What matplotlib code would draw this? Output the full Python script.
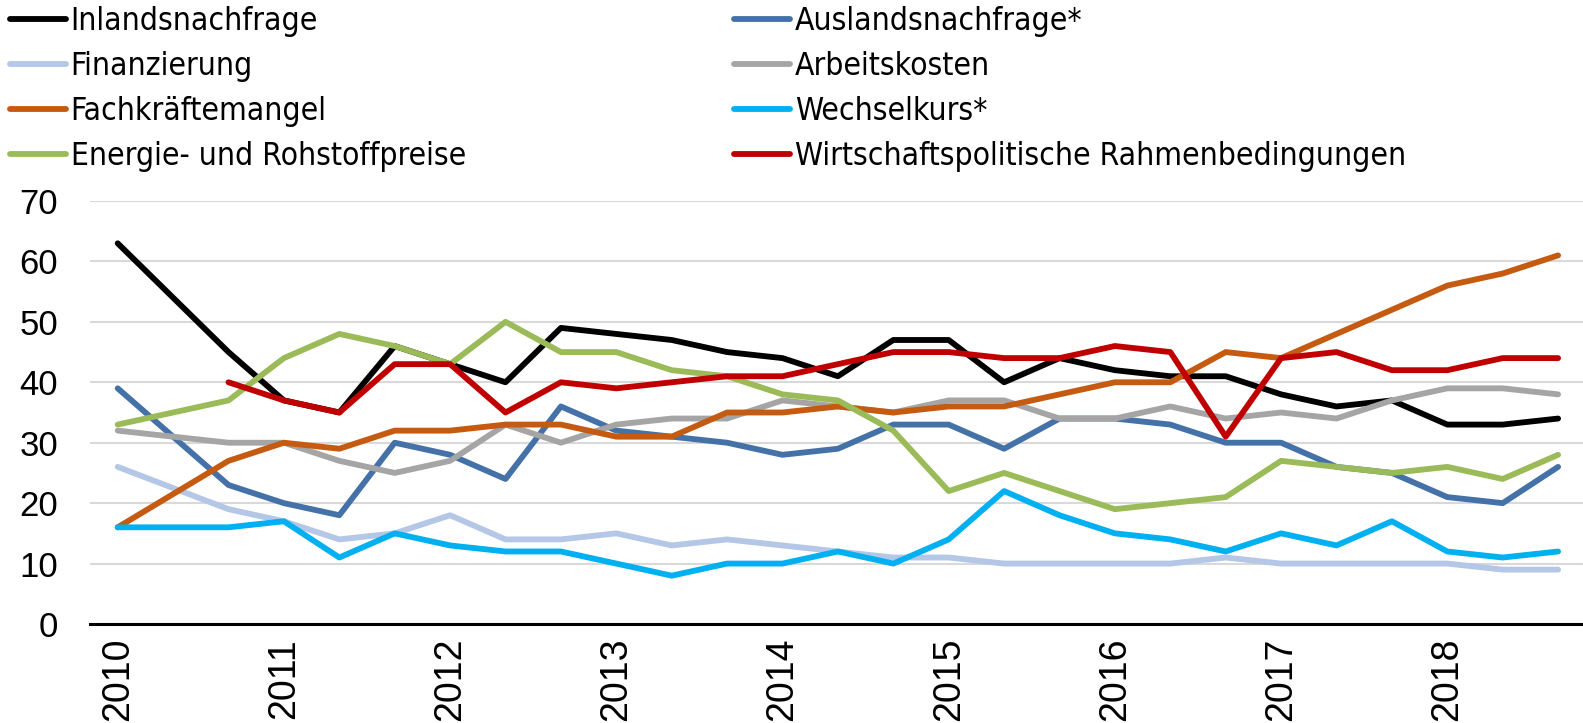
import numpy as np
import matplotlib
matplotlib.use("Agg")
import matplotlib.pyplot as plt
from matplotlib import font_manager as fm

# survey dates: 3 per year, the second 2010 survey is missing
years = ["2010", "2011", "2012", "2013", "2014", "2015", "2016", "2017", "2018"]
nan = np.nan

inland = [63, nan, 45, 37, 35, 46, 43, 40, 49, 48, 47, 45, 44, 41, 47, 47, 40, 44, 42, 41, 41, 38, 36, 37, 33, 33, 34]
ausland = [39, nan, 23, 20, 18, 30, 28, 24, 36, 32, 31, 30, 28, 29, 33, 33, 29, 34, 34, 33, 30, 30, 26, 25, 21, 20, 26]
finanz = [26, nan, 19, 17, 14, 15, 18, 14, 14, 15, 13, 14, 13, 12, 11, 11, 10, 10, 10, 10, 11, 10, 10, 10, 10, 9, 9]
arbeit = [32, nan, 30, 30, 27, 25, 27, 33, 30, 33, 34, 34, 37, 36, 35, 37, 37, 34, 34, 36, 34, 35, 34, 37, 39, 39, 38]
fachkraft = [16, nan, 27, 30, 29, 32, 32, 33, 33, 31, 31, 35, 35, 36, 35, 36, 36, 38, 40, 40, 45, 44, 48, 52, 56, 58, 61]
wechsel = [16, nan, 16, 17, 11, 15, 13, 12, 12, 10, 8, 10, 10, 12, 10, 14, 22, 18, 15, 14, 12, 15, 13, 17, 12, 11, 12]
energie = [33, nan, 37, 44, 48, 46, 43, 50, 45, 45, 42, 41, 38, 37, 32, 22, 25, 22, 19, 20, 21, 27, 26, 25, 26, 24, 28]
wipo = [nan, nan, 40, 37, 35, 43, 43, 35, 40, 39, 40, 41, 41, 43, 45, 45, 44, 44, 46, 45, 31, 44, 45, 42, 42, 44, 44]

series = [
    ("Inlandsnachfrage", inland, "#000000"),
    ("Auslandsnachfrage*", ausland, "#4472A8"),
    ("Finanzierung", finanz, "#B4C7E7"),
    ("Arbeitskosten", arbeit, "#A5A5A5"),
    ("Fachkräftemangel", fachkraft, "#C55A11"),
    ("Wechselkurs*", wechsel, "#00B0F0"),
    ("Energie- und Rohstoffpreise", energie, "#9BBB59"),
    ("Wirtschaftspolitische Rahmenbedingungen", wipo, "#C00000"),
]

plt.rcParams["font.family"] = ["Liberation Sans", "DejaVu Sans"]

# look for a condensed / narrow sans for the legend
cand = []
for f in fm.fontManager.ttflist:
    n = (f.fname + " " + f.name).lower()
    if ("narrow" in n or "condensed" in n) and "bold" not in n and "oblique" not in n \
            and "italic" not in n and "mono" not in n and "serif" not in f.name.lower() \
            and f.weight in (400, "normal", "regular"):
        cand.append(f)
cand.sort(key=lambda f: (0 if "liberation" in f.fname.lower() else 1))
if cand:
    leg_prop = fm.FontProperties(fname=cand[0].fname)
else:
    leg_prop = fm.FontProperties(family="DejaVu Sans", stretch="condensed")

W, H = 1583, 723
fig = plt.figure(figsize=(W / 100, H / 100), dpi=100)
ax = fig.add_axes([90 / W, 99 / H, 1493 / W, 423 / H])

x = np.arange(len(inland))
lines = {}
for label, vals, color in series:
    y = np.array(vals, dtype=float)
    m = ~np.isnan(y)
    ln, = ax.plot(x[m], y[m], color=color, lw=4.2, label=label,
                  solid_capstyle="round", solid_joinstyle="round")
    lines[label] = ln

ax.set_xlim(-0.5, -0.5 + 1493 / 55.4)
ax.set_ylim(0, 70)
ax.set_yticks(range(0, 71, 10))
ax.set_xticks(np.arange(0, 25, 3))
ax.set_xticklabels(years, rotation=90, fontsize=27)
ax.tick_params(axis="x", length=0, pad=10)
ax.tick_params(axis="y", length=0, pad=23, labelsize=25)
ax.grid(axis="y", color="#D9D9D9", lw=1.5)
ax.set_axisbelow(True)
for s in ["top", "right", "left"]:
    ax.spines[s].set_visible(False)
ax.spines["bottom"].set_linewidth(2.2)
ax.spines["bottom"].set_color("#000000")

# pick legend font size so "Inlandsnachfrage" is ~247 px wide
renderer = fig.canvas.get_renderer()
probe = fig.text(0, 0, "Inlandsnachfrage", fontproperties=leg_prop, fontsize=20)
w20 = probe.get_window_extent(renderer).width
probe.remove()
leg_size = min(28, 20 * 247 / w20)
leg_prop.set_size(leg_size)

left_names = ["Inlandsnachfrage", "Finanzierung", "Fachkräftemangel", "Energie- und Rohstoffpreise"]
right_names = ["Auslandsnachfrage*", "Arbeitskosten", "Wechselkurs*", "Wirtschaftspolitische Rahmenbedingungen"]


def make_legends(spacing):
    common = dict(frameon=False, handlelength=56 / (leg_size * 100 / 72), handletextpad=0.15,
                  labelspacing=spacing, prop=leg_prop, borderaxespad=0, borderpad=0, loc="upper left")
    l1 = fig.legend([lines[n] for n in left_names], left_names,
                    bbox_to_anchor=(10 / W, 1 - 6 / H), **common)
    l2 = fig.legend([lines[n] for n in right_names], right_names,
                    bbox_to_anchor=(734 / W, 1 - 6 / H), **common)
    return l1, l2


l1, l2 = make_legends(0.3)
fig.canvas.draw()
ys = [t.get_window_extent(renderer).y0 for t in l1.get_texts()]
pitch = (ys[0] - ys[-1]) / 3
fs_px = leg_size * 100 / 72
new_spacing = 0.3 + (45 - pitch) / fs_px
l1.remove()
l2.remove()
l1, l2 = make_legends(new_spacing)

fig.savefig("out.png", dpi=100)
